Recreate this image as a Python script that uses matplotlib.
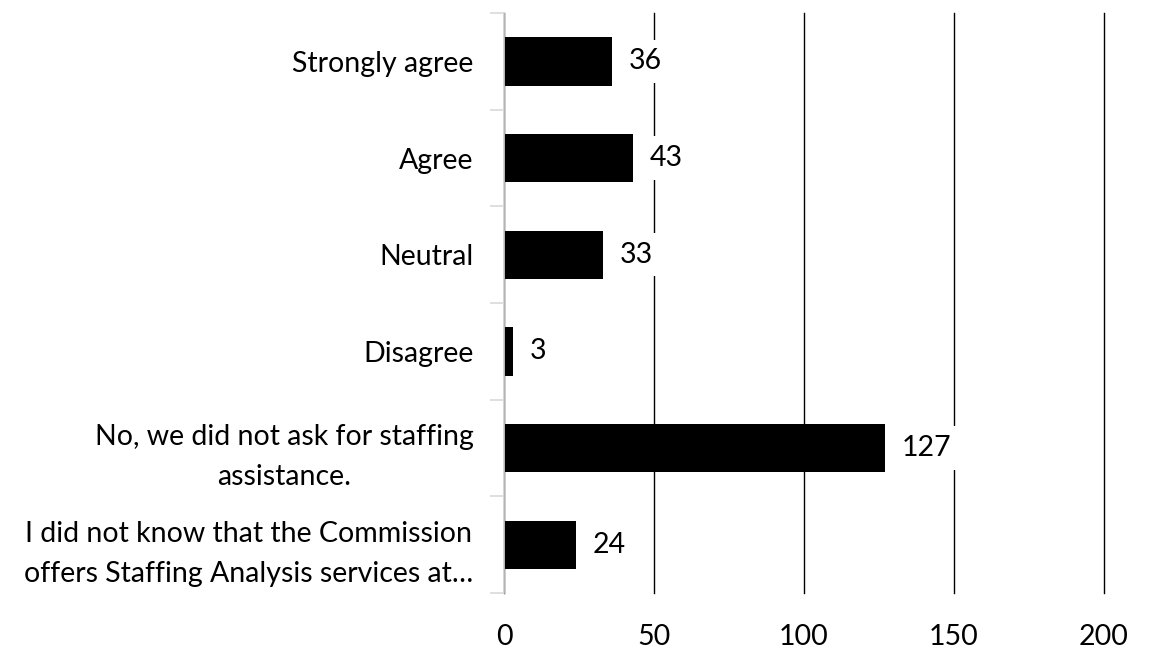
import matplotlib
matplotlib.use("Agg")
import matplotlib.pyplot as plt
from matplotlib.ticker import FixedLocator

# Survey responses, top to bottom
categories = [
    "Strongly agree",
    "Agree",
    "Neutral",
    "Disagree",
    "No, we did not ask for staffing\nassistance.",
    "I did not know that the Commission\noffers Staffing Analysis services at\u2026",
]
counts = [36, 43, 33, 3, 127, 24]
x_ticks = [0, 50, 100, 150, 200]

plt.rcParams["font.family"] = ["Lato", "DejaVu Sans"]
FS = 20.5

fig = plt.figure(figsize=(11.53, 6.56), dpi=100)
ax = fig.add_axes([504 / 1153, 63 / 656, 600 / 1153, 580 / 656])

ypos = list(range(len(categories)))
ax.barh(ypos, counts, height=0.5, color="black", zorder=3)

ax.set_xlim(0, 200)
ax.set_ylim(len(categories) - 0.5, -0.5)

ax.set_xticks(x_ticks)
ax.set_xticklabels([str(t) for t in x_ticks], fontsize=FS)
ax.tick_params(axis="x", length=0, pad=22)
ax.grid(axis="x", color="black", linewidth=1.0, zorder=1)
for gl in ax.get_xgridlines():
    gl.set_clip_on(False)

ax.set_yticks(ypos)
ax.set_yticklabels(categories, fontsize=FS, ha="right", multialignment="center",
                   linespacing=1.65)
ax.tick_params(axis="y", which="major", length=0, pad=22)
ax.yaxis.set_minor_locator(FixedLocator([i - 0.5 for i in range(len(categories) + 1)]))
ax.tick_params(axis="y", which="minor", length=10, color="#d9d9d9", width=1.2)

for side in ("top", "right", "bottom"):
    ax.spines[side].set_visible(False)
ax.spines["left"].set_color("#d9d9d9")
ax.spines["left"].set_linewidth(1.2)
ax.spines["left"].set_zorder(4)

for y, v in zip(ypos, counts):
    ax.annotate(str(v), xy=(v, y), xytext=(12, 0), textcoords="offset points",
                va="center", ha="left", fontsize=FS, zorder=5,
                bbox=dict(boxstyle="square,pad=0.3", fc="white", ec="none"))

fig.savefig("out.png", dpi=100)
